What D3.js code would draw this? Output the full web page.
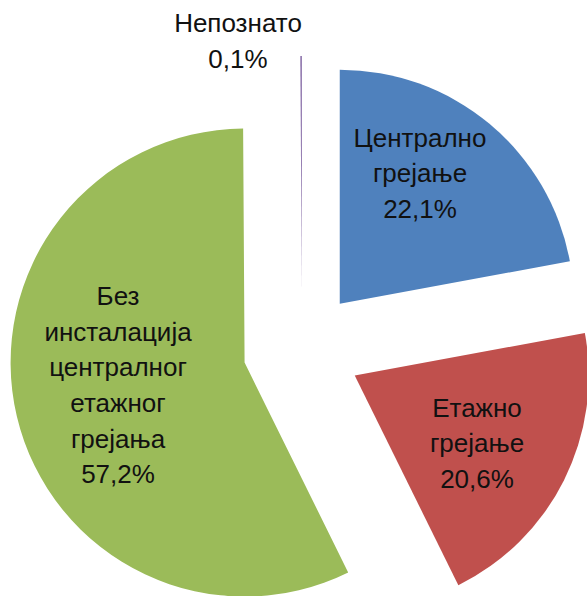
<!DOCTYPE html>
<html><head><meta charset="utf-8">
<script src="https://cdn.jsdelivr.net/npm/d3@7"></script>
<style>html,body{margin:0;padding:0;background:#fff;}</style>
</head><body>
<svg id="chart" width="587" height="596"></svg>
<script>
const categories = ["Централно грејање", "Етажно грејање", "Без инсталација централног етажног грејања", "Непознато"];
const values = [22.1, 20.6, 57.2, 0.1];
const valueLabels = ["22,1%", "20,6%", "57,2%", "0,1%"];
const labelLines = [["Централно", "грејање"], ["Етажно", "грејање"], ["Без", "инсталација", "централног", "етажног", "грејања"], ["Непознато"]];
const colors = ["#4F81BD", "#C0504D", "#9BBB59", "#8064A2"];

const W = 587, H = 596;
const cx = 302, cy = 349, R = 234, explode = 59;
// label centre positions (layout)
const labelCenters = [[420, 173], [477, 443], [118, 385], [238, 41]];
const lineH = 35.6;
const fontSize = 26;

const svg = d3.select("#chart");
const pie = d3.pie().sort(null).value(d => d)(values);
const arc = d3.arc().innerRadius(0).outerRadius(R);

const g = svg.append("g").attr("transform", `translate(${cx},${cy})`);
g.selectAll("path").data(pie).join("path")
  .attr("d", arc)
  .attr("fill", (d, i) => colors[i])
  .attr("transform", d => {
    const a = (d.startAngle + d.endAngle) / 2;
    return `translate(${explode * Math.sin(a)},${-explode * Math.cos(a)})`;
  });

labelLines.forEach((lines, i) => {
  const all = lines.concat([valueLabels[i]]);
  const [lx, ly] = labelCenters[i];
  const t = svg.append("text")
    .attr("x", lx)
    .attr("text-anchor", "middle")
    .attr("font-family", "'Liberation Sans', Arial, sans-serif")
    .attr("font-size", fontSize)
    .attr("fill", "#111");
  const y0 = ly - (all.length - 1) * lineH / 2;
  all.forEach((s, k) => {
    t.append("tspan").attr("x", lx).attr("y", y0 + k * lineH).attr("dy", "0.35em").text(s);
  });
});
</script>
</body></html>
